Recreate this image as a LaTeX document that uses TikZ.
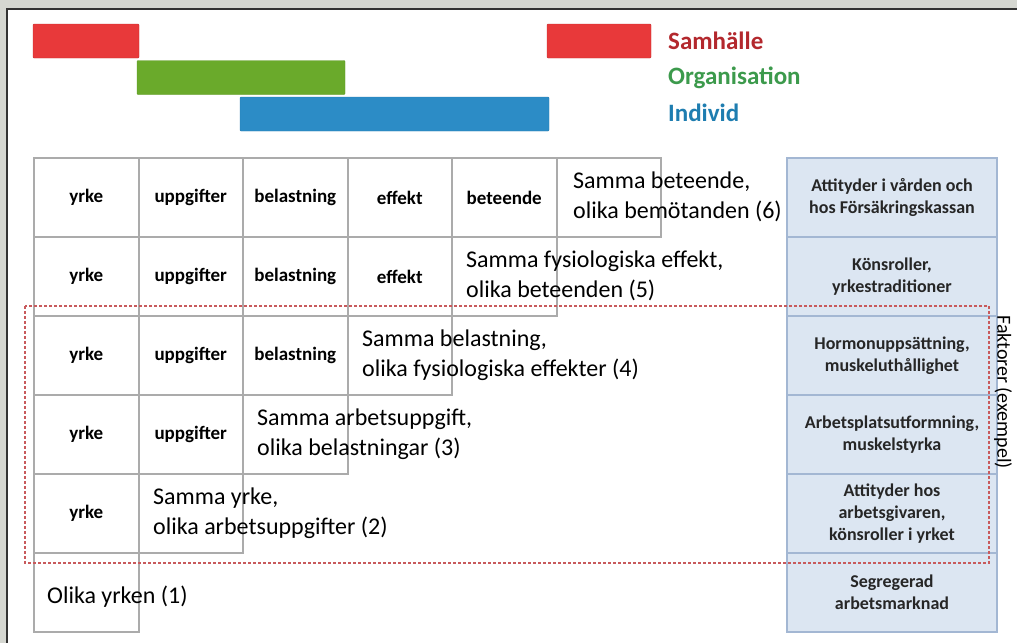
\documentclass[tikz,border=0pt]{standalone}
\usepackage{fontspec}
\setmainfont{Carlito}
\usepackage{tikz}
\usetikzlibrary{positioning}

\definecolor{bggrey}{HTML}{D5D7D1}
\definecolor{samred}{HTML}{E8393A}
\definecolor{samredtxt}{HTML}{B3282D}
\definecolor{orggreen}{HTML}{6AAA2B}
\definecolor{orggreentxt}{HTML}{3C9A4C}
\definecolor{indblue}{HTML}{2C8CC6}
\definecolor{indbluetxt}{HTML}{1E7DB0}
\definecolor{cellgrey}{HTML}{ABABAB}
\definecolor{factfill}{HTML}{DCE6F2}
\definecolor{factline}{HTML}{A3B7D3}
\definecolor{dashred}{HTML}{C85A5C}

\begin{document}
\begin{tikzpicture}[x=1pt,y=-1pt,
  bar/.style={rounded corners=1pt,minimum height=34pt,inner sep=0pt},
  legend/.style={anchor=west,inner sep=0pt,font=\fontsize{25}{30}\selectfont\bfseries},
  cell/.style={draw=cellgrey,line width=2pt,fill=white,minimum width=104.5pt,minimum height=79pt,inner sep=0pt,font=\fontsize{19}{23}\selectfont\bfseries},
  level/.style={anchor=west,align=left,inner sep=0pt,font=\fontsize{24}{30}\selectfont},
  factor/.style={draw=factline,line width=1.5pt,fill=factfill,minimum width=210pt,minimum height=79pt,inner sep=0pt,align=center,text=black!85,font=\fontsize{18}{22}\selectfont\bfseries}]

  \useasboundingbox (0,0) rectangle (1017,643);
  \fill[bggrey] (0,0) rectangle (1017,643);
  \fill[white] (7,9) rectangle (1017,643);
  \draw[black!80,line width=2pt] (1017,9) -- (7,9) -- (7,643);

  % nivaer
  \node at (86,41) [bar,fill=samred,draw=samred!85!black,minimum width=106pt] (samleft) {};
  \node at (241,77.5) [bar,fill=orggreen,draw=orggreen!90!black,minimum width=208pt] (org) {};
  \node at (394.5,114) [bar,fill=indblue,draw=indblue!90!black,minimum width=309pt] (ind) {};
  \node at (599,41) [bar,fill=samred,draw=samred!85!black,minimum width=104pt] (samright) {};

  \node at (668,41) [legend,text=samredtxt] (samlabel) {Samhälle};
  \node at (668,78) [legend,text=orggreentxt] (orglabel) {Organisation};
  \node at (668,113) [legend,text=indbluetxt] (indlabel) {Individ};

  % rad 6
  \node at (86.25,197.5) [cell] (yrke6) {yrke};
  \node at (190.75,197.5) [cell] (uppg6) {uppgifter};
  \node at (295.25,197.5) [cell] (bel6) {belastning};
  \node at (399.75,197.5) [cell] (eff6) {effekt};
  \node at (504.25,197.5) [cell] (bet6) {beteende};
  \node at (608.75,197.5) [cell] (box6) {};

  % rad 5
  \node at (86.25,276.5) [cell] (yrke5) {yrke};
  \node at (190.75,276.5) [cell] (uppg5) {uppgifter};
  \node at (295.25,276.5) [cell] (bel5) {belastning};
  \node at (399.75,276.5) [cell] (eff5) {effekt};
  \node at (504.25,276.5) [cell] (box5) {};

  % rad 4
  \node at (86.25,355.5) [cell] (yrke4) {yrke};
  \node at (190.75,355.5) [cell] (uppg4) {uppgifter};
  \node at (295.25,355.5) [cell] (bel4) {belastning};
  \node at (399.75,355.5) [cell] (box4) {};

  % rad 3
  \node at (86.25,434.5) [cell] (yrke3) {yrke};
  \node at (190.75,434.5) [cell] (uppg3) {uppgifter};
  \node at (295.25,434.5) [cell] (box3) {};

  % rad 2
  \node at (86.25,513.5) [cell] (yrke2) {yrke};
  \node at (190.75,513.5) [cell] (box2) {};

  % rad 1
  \node at (86.25,592.5) [cell] (box1) {};

  \node at (573,197) [level] (txt6) {Samma beteende,\\olika bemötanden (6)};
  \node at (466,276) [level] (txt5) {Samma fysiologiska effekt,\\olika beteenden (5)};
  \node at (362,355) [level] (txt4) {Samma belastning,\\olika fysiologiska effekter (4)};
  \node at (257,434) [level] (txt3) {Samma arbetsuppgift,\\olika belastningar (3)};
  \node at (153,513) [level] (txt2) {Samma yrke,\\olika arbetsuppgifter (2)};
  \node at (47,597) [level] (txt1) {Olika yrken (1)};

  % faktorer
  \node at (892,197.5) [factor] (f6) {Attityder i vården och\\hos Försäkringskassan};
  \node at (892,276.5) [factor] (f5) {Könsroller,\\yrkestraditioner};
  \node at (892,355.5) [factor] (f4) {Hormonuppsättning,\\muskeluthållighet};
  \node at (892,434.5) [factor] (f3) {Arbetsplatsutformning,\\muskelstyrka};
  \node at (892,513.5) [factor] (f2) {Attityder hos\\arbetsgivaren,\\könsroller i yrket};
  \node at (892,592.5) [factor] (f1) {Segregerad\\arbetsmarknad};

  \draw[dashred,line width=1.2pt,dash pattern=on 3pt off 2pt] (25,306) rectangle (989,563);
  \node at (1003,392) [rotate=-90,inner sep=0pt,font=\fontsize{20}{24}\selectfont] (faktorer) {Faktorer (exempel)};
\end{tikzpicture}
\end{document}
